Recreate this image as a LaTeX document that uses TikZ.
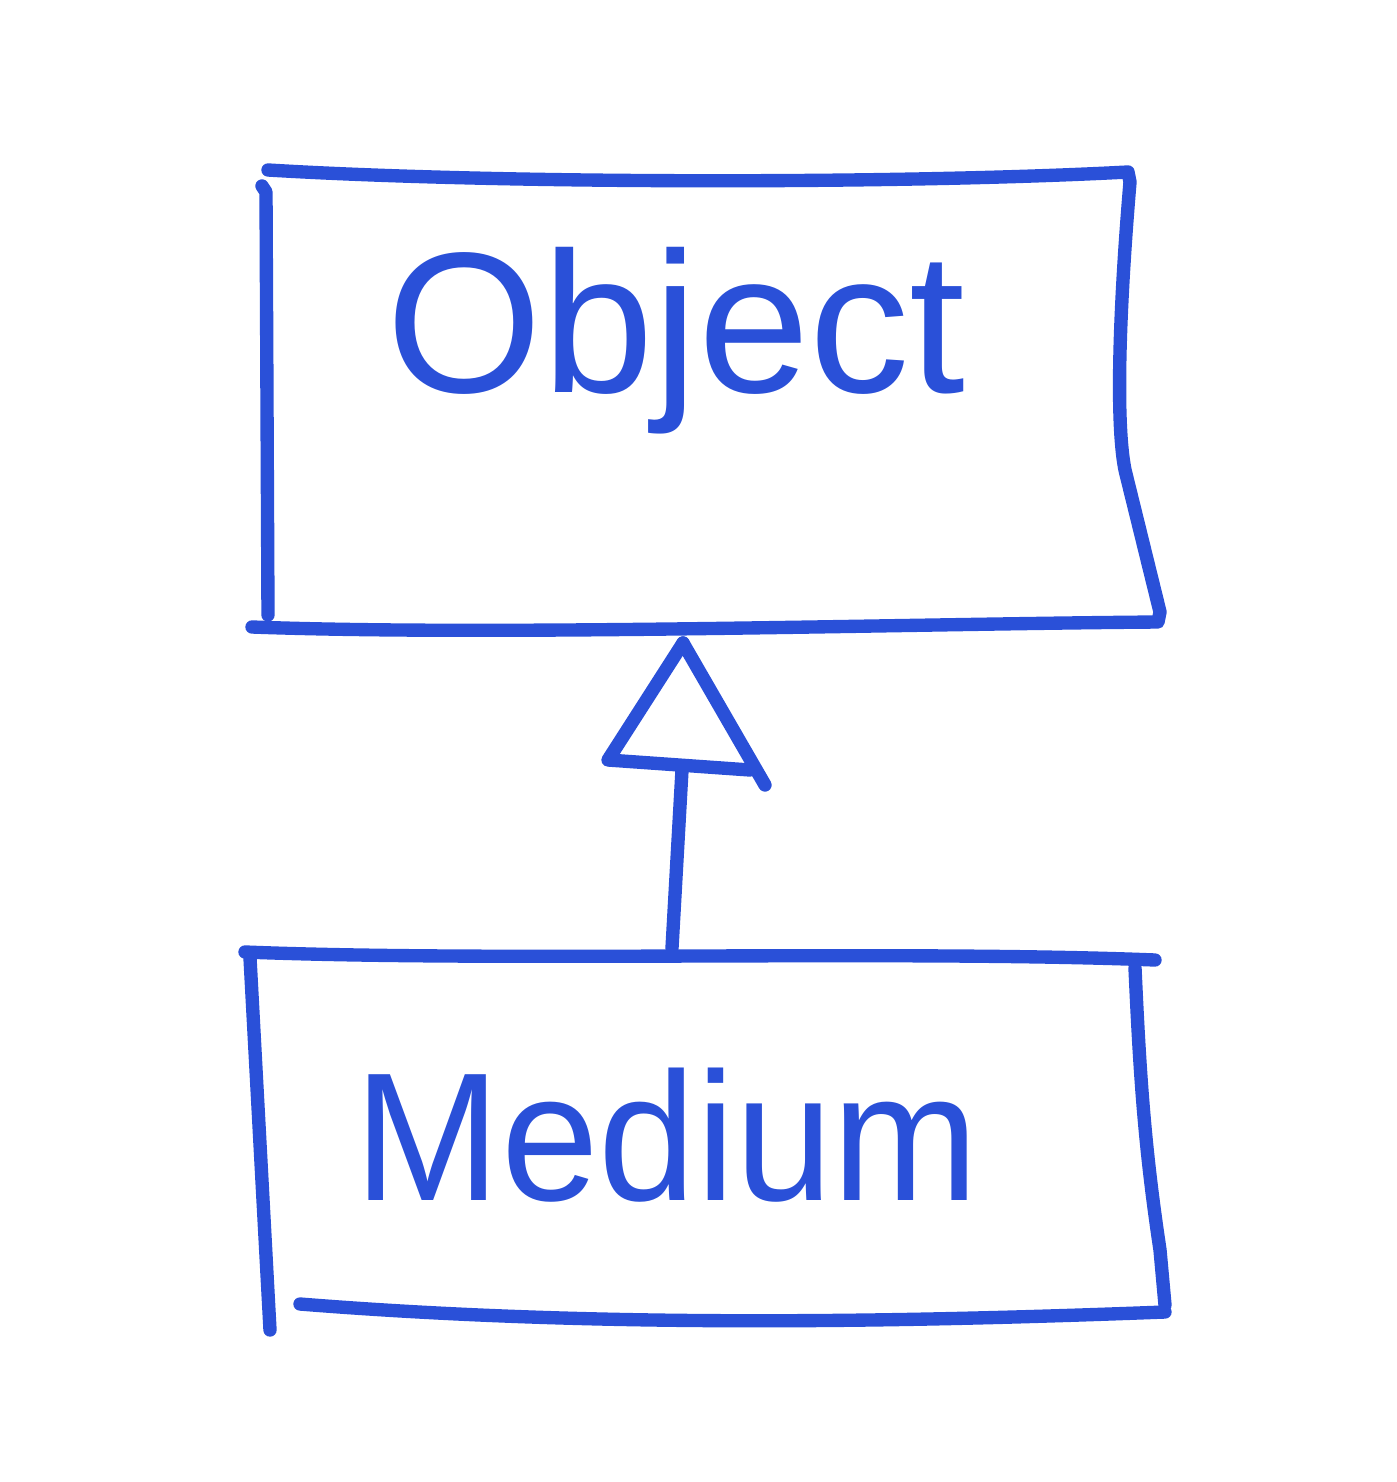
\documentclass[tikz,border=0pt]{standalone}
\usepackage{fontspec}
\setmainfont{Liberation Sans}
\usetikzlibrary{arrows.meta}
\definecolor{pen}{RGB}{42,80,216}
\begin{document}
\begin{tikzpicture}[x={(0.01cm,0)},y={(0,-0.01cm)},
  hand/.style={draw=pen,line width=3.8pt,line cap=round,line join=round},
  lbl/.style={text=pen,anchor=base,inner sep=0pt}]
\useasboundingbox (0,0) rectangle (1396,1482);
% invisible box nodes for anchoring
\node[minimum width=8.8cm,minimum height=4.5cm,inner sep=0pt] (obj) at (705,400) {};
\node[minimum width=9cm,minimum height=3.6cm,inner sep=0pt] (med) at (705,1135) {};
% Object box outline
\draw[hand] (262,186) -- (266,192) -- (268,615);
\draw[hand] (268,170) .. controls (500,184) and (900,184) .. (1128,172) -- (1130,182)
  .. controls (1120,300) and (1115,420) .. (1125,470) -- (1160,612) -- (1158,622)
  .. controls (900,624) and (500,636) .. (252,627);
% Medium box outline
\draw[hand] (245,952) .. controls (500,962) and (900,950) .. (1155,960);
\draw[hand] (250,958) -- (270,1330);
\draw[hand] (1135,968) .. controls (1140,1080) and (1145,1150) .. (1160,1250) -- (1165,1305);
\draw[hand] (300,1304) .. controls (600,1328) and (900,1322) .. (1165,1312);
% connector (generalization)
\coordinate (tip) at (683,643);
\coordinate (foot) at (672,948);
\draw[hand] (tip) -- (608,760) -- (750,770);
\draw[hand] (tip) -- (765,785);
\draw[hand] (foot) -- (682,770);
% labels
\node[lbl,font=\fontsize{57}{57}\selectfont] (objtext) at (676,392) {Object};
\node[lbl,font=\fontsize{52}{52}\selectfont,xscale=0.96] (medtext) at (667,1200) {Medium};
\end{tikzpicture}
\end{document}
